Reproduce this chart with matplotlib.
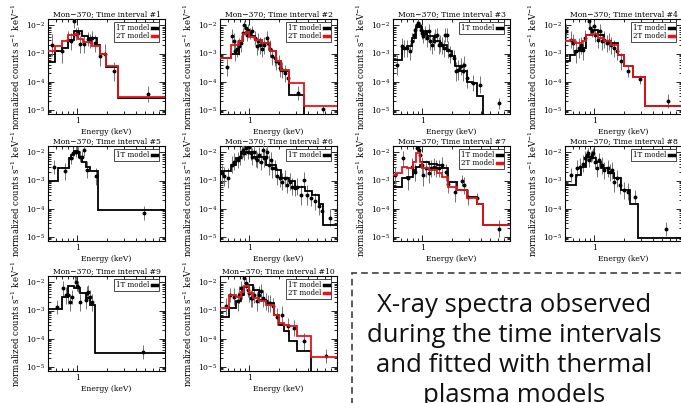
import numpy as np
import matplotlib
matplotlib.use('Agg')
import matplotlib.pyplot as plt
from matplotlib.lines import Line2D
from matplotlib.patches import Rectangle
from matplotlib.ticker import FixedLocator, FixedFormatter, NullFormatter, LogLocator

# ---- spectra (energy in keV, flux in counts/s/keV, error in dex) ----
P1_E = [0.55, 0.69, 0.81, 0.87, 0.93, 0.97, 1.02, 1.08, 1.18, 1.28, 1.35, 1.41, 1.53, 1.71, 1.92, 2.39, 5.4]
P1_F = [2.0e-3, 1.2e-3, 3.1e-3, 2.7e-3, 1.5e-2, 5.0e-3, 5.6e-3, 2.1e-3, 2.1e-3, 3.3e-3, 2.9e-3, 3.5e-3,
        2.3e-3, 8.3e-4, 9.8e-4, 2.3e-4, 3.6e-5]
P1_ERR = [0.4, 0.4, 0.3, 0.3, 0.25, 0.2, 0.2, 0.3, 0.3, 0.25, 0.25, 0.25, 0.3, 0.35, 0.35, 0.35, 0.3]
P1_EDGES_1T = [0.5, 0.59, 0.69, 0.8, 0.93, 1.11, 1.30, 1.58, 1.71, 1.97, 2.63, 8.0]
P1_MOD_1T = [4.8e-4, 1.2e-3, 1.6e-3, 3.1e-3, 6.1e-3, 4.1e-3, 3.7e-3, 2.0e-3, 1.0e-3, 3.2e-4, 2.7e-5]
P1_EDGES_2T = [0.5, 0.59, 0.69, 0.81, 0.95, 1.02, 1.15, 1.41, 1.71, 1.97, 2.63, 8.0]
P1_MOD_2T = [1.25e-3, 1.9e-3, 2.7e-3, 4.7e-3, 4.9e-3, 3.3e-3, 2.5e-3, 1.8e-3, 1.0e-3, 3.7e-4, 2.8e-5]

P2_E = [0.59, 0.67, 0.69, 0.72, 0.75, 0.79, 0.82, 0.86, 0.89, 0.92, 0.94, 0.97, 1.02, 1.06, 1.15, 1.19,
        1.24, 1.29, 1.34, 1.43, 1.51, 1.56, 1.63, 1.72, 1.83, 1.90, 2.02, 2.09, 2.18, 2.36, 2.49, 3.15, 5.8]
P2_F = [3.2e-4, 4.1e-3, 2.7e-3, 1.2e-3, 1.5e-3, 1.8e-3, 2.3e-3, 5.3e-3, 1.05e-2, 8.0e-3, 4.6e-3, 7.0e-3,
        5.3e-3, 6.1e-3, 3.5e-3, 1.8e-3, 2.7e-3, 2.0e-3, 1.5e-3, 2.0e-3, 3.5e-3, 2.3e-3, 1.5e-3, 7.9e-4,
        6.9e-4, 5.2e-4, 4.6e-4, 3.0e-4, 2.6e-4, 2.0e-4, 1.3e-4, 3.9e-5, 1.07e-5]
P2_ERR = [0.3, 0.25, 0.3, 0.35, 0.3, 0.3, 0.3, 0.2, 0.15, 0.15, 0.2, 0.2, 0.2, 0.2, 0.25, 0.3, 0.3, 0.3,
          0.3, 0.3, 0.25, 0.25, 0.3, 0.3, 0.3, 0.3, 0.3, 0.3, 0.3, 0.3, 0.3, 0.25, 0.15]
P2_EDGES = [0.5, 0.65, 0.78, 0.86, 0.93, 1.0, 1.15, 1.35, 1.63, 1.90, 2.13, 2.59, 3.67, 8.0]
P2_MOD_1T = [6.8e-4, 1.0e-3, 2.7e-3, 5.3e-3, 5.8e-3, 4.1e-3, 3.1e-3, 2.3e-3, 1.2e-3, 5.5e-4, 2.3e-4, 3.3e-5, 1e-6]
P2_MOD_2T = [6.8e-4, 2.0e-3, 2.7e-3, 5.0e-3, 6.0e-3, 4.0e-3, 3.0e-3, 2.4e-3, 1.2e-3, 5.5e-4, 2.6e-4, 9.0e-5, 1.3e-5]

P3_E = [0.55, 0.62, 0.65, 0.70, 0.74, 0.78, 0.83, 0.85, 0.88, 0.91, 0.94, 0.97, 1.0, 1.03, 1.07, 1.12,
        1.16, 1.21, 1.26, 1.31, 1.36, 1.41, 1.47, 1.53, 1.59, 1.66, 1.72, 1.79, 1.86, 1.94, 2.10, 2.23,
        2.36, 2.49, 2.61, 2.70, 2.87, 3.31, 3.94, 6.2]
P3_F = [4.0e-4, 1.8e-3, 1.55e-3, 1.55e-3, 1.2e-3, 2.7e-3, 4.7e-3, 7.0e-3, 1.05e-2, 1.2e-2, 9.2e-3, 7.0e-3,
        5.3e-3, 4.1e-3, 5.3e-3, 3.5e-3, 6.1e-3, 2.7e-3, 2.0e-3, 2.7e-3, 4.1e-3, 4.7e-3, 2.0e-3, 2.3e-3,
        2.0e-3, 1.55e-3, 4.7e-3, 4.7e-3, 1.35e-3, 9.1e-4, 6.9e-4, 2.3e-4, 2.6e-4, 3.5e-4, 2.3e-4, 4.0e-4,
        1.3e-4, 8.9e-5, 7.8e-5, 1.7e-5]
P3_ERR = [0.35, 0.3, 0.3, 0.3, 0.3, 0.3, 0.25, 0.2, 0.15, 0.15, 0.15, 0.2, 0.2, 0.25, 0.25, 0.3, 0.25,
          0.3, 0.3, 0.3, 0.25, 0.25, 0.3, 0.3, 0.3, 0.3, 0.25, 0.25, 0.3, 0.3, 0.3, 0.35, 0.35, 0.3, 0.35,
          0.3, 0.35, 0.3, 0.3, 0.2]
P3_EDGES = [0.5, 0.62, 0.70, 0.78, 0.87, 0.99, 1.13, 1.31, 1.53, 1.79, 2.01, 2.18, 2.45, 2.87, 3.23, 3.64, 4.26, 8.0]
P3_MOD_1T = [5.9e-4, 1.55e-3, 1.8e-3, 3.5e-3, 8.5e-3, 6.1e-3, 4.1e-3, 2.7e-3, 2.0e-3, 1.2e-3, 7.9e-4,
             3.5e-4, 2.3e-4, 1.0e-4, 8.9e-5, 3.0e-5, 1e-6]

P4_E = [0.51, 0.57, 0.61, 0.65, 0.69, 0.73, 0.77, 0.81, 0.88, 0.91, 0.95, 0.99, 1.03, 1.09, 1.14, 1.21,
        1.26, 1.34, 1.42, 1.48, 1.60, 1.71, 1.88, 2.25, 2.93, 5.8]
P4_F = [6.1e-3, 3.1e-3, 2.3e-3, 1.2e-3, 1.55e-3, 2.0e-3, 1.35e-3, 3.5e-3, 1.4e-2, 8.1e-3, 6.1e-3, 9.2e-3,
        4.7e-3, 3.1e-3, 6.1e-3, 2.7e-3, 3.1e-3, 2.3e-3, 2.7e-3, 2.0e-3, 1.55e-3, 1.2e-3, 5.2e-4, 2.3e-4,
        1.2e-4, 2.0e-5]
P4_ERR = [0.25, 0.3, 0.35, 0.4, 0.35, 0.3, 0.35, 0.3, 0.2, 0.2, 0.2, 0.2, 0.25, 0.3, 0.25, 0.3, 0.3, 0.3,
          0.3, 0.3, 0.3, 0.3, 0.3, 0.2, 0.15, 0.25]
P4_EDGES = [0.5, 0.56, 0.64, 0.75, 0.83, 0.95, 1.09, 1.26, 1.48, 1.76, 2.04, 2.49, 3.30, 8.0]
P4_MOD_1T = [5.2e-4, 9.1e-4, 1.2e-3, 1.55e-3, 4.7e-3, 7.0e-3, 4.7e-3, 2.8e-3, 2.3e-3, 9.1e-4, 3.5e-4, 1.5e-4, 1.3e-5]
P4_MOD_2T = [2.7e-3, 3.1e-3, 2.3e-3, 2.7e-3, 4.7e-3, 4.9e-3, 3.5e-3, 2.7e-3, 2.0e-3, 9.1e-4, 3.5e-4, 1.5e-4, 1.4e-5]

P5_E = [0.57, 0.74, 0.87, 0.90, 0.96, 1.0, 1.02, 1.08, 1.12, 1.17, 1.27, 1.55, 4.9]
P5_F = [3.1e-3, 2.1e-3, 6.1e-3, 9.2e-3, 1.05e-2, 1.9e-2, 1.0e-2, 7.0e-3, 7.0e-3, 1.2e-2, 2.4e-3, 1.4e-3, 7.1e-5]
P5_ERR = [0.25, 0.3, 0.2, 0.2, 0.2, 0.15, 0.2, 0.2, 0.2, 0.2, 0.3, 0.3, 0.25]
P5_EDGES = [0.5, 0.64, 0.82, 0.87, 0.92, 1.0, 1.04, 1.12, 1.24, 1.34, 1.65, 8.0]
P5_MOD_1T = [9.7e-4, 2.9e-3, 6.5e-3, 8.1e-3, 1.1e-2, 9.2e-3, 7.0e-3, 4.7e-3, 3.1e-3, 2.1e-3, 9.1e-5]

P6_E = [0.52, 0.55, 0.61, 0.66, 0.70, 0.76, 0.80, 0.84, 0.87, 0.89, 0.92, 0.96, 1.0, 1.04, 1.08, 1.12,
        1.17, 1.21, 1.26, 1.31, 1.37, 1.42, 1.48, 1.54, 1.60, 1.66, 1.73, 1.84, 1.95, 2.05, 2.19, 2.33,
        2.46, 2.60, 2.77, 2.95, 3.12, 3.37, 3.65, 3.94, 4.27, 4.80, 5.19, 5.6, 6.8]
P6_F = [1.8e-3, 1.4e-3, 1.2e-3, 3.6e-3, 4.7e-3, 5.4e-3, 7.0e-3, 1.05e-2, 1.2e-2, 9.2e-3, 1.4e-2, 1.05e-2,
        1.6e-2, 9.2e-3, 7.0e-3, 1.05e-2, 6.1e-3, 5.4e-3, 8.1e-3, 4.7e-3, 1.2e-2, 6.1e-3, 7.0e-3, 1.05e-2,
        3.6e-3, 5.4e-3, 2.7e-3, 2.7e-3, 1.4e-3, 1.2e-3, 9.2e-4, 1.2e-3, 7.0e-4, 9.2e-4, 6.1e-4, 5.4e-4,
        6.1e-4, 3.1e-4, 1.05e-3, 3.1e-4, 2.4e-4, 1.8e-4, 1.2e-4, 8.1e-5, 4.7e-5]
P6_ERR = [0.3, 0.35, 0.35, 0.3, 0.3, 0.3, 0.3, 0.25, 0.25, 0.25, 0.25, 0.25, 0.25, 0.25, 0.3, 0.25, 0.3,
          0.3, 0.3, 0.3, 0.25, 0.3, 0.3, 0.25, 0.35, 0.3, 0.35, 0.3, 0.3, 0.3, 0.3, 0.3, 0.3, 0.3, 0.3,
          0.3, 0.3, 0.35, 0.3, 0.35, 0.3, 0.3, 0.3, 0.3, 0.3]
P6_EDGES = [0.5, 0.65, 0.73, 0.82, 1.08, 1.48, 1.87, 2.10, 2.56, 2.99, 3.79, 4.43, 5.19, 5.8, 8.0]
P6_MOD_1T = [2.1e-3, 3.6e-3, 6.1e-3, 1.0e-2, 7.0e-3, 3.6e-3, 2.4e-3, 1.2e-3, 1.0e-3, 6.1e-4, 4.1e-4,
             3.1e-4, 1.4e-4, 2.5e-5]

P7_E = [0.53, 0.64, 0.72, 0.78, 0.85, 0.88, 0.90, 0.92, 0.95, 0.99, 1.03, 1.10, 1.16, 1.23, 1.31, 1.39,
        1.47, 1.59, 1.76, 1.86, 2.18, 2.55, 2.70, 2.99, 3.64, 6.1]
P7_F = [1.55e-3, 6.1e-3, 1.2e-3, 3.1e-3, 2.0e-3, 1.4e-2, 1.6e-2, 1.2e-2, 8.0e-3, 3.5e-3, 1.55e-3, 2.7e-3,
        1.8e-3, 2.7e-3, 3.1e-3, 2.7e-3, 2.7e-3, 3.5e-3, 2.0e-3, 7.8e-4, 4.0e-4, 1.0e-3, 6.8e-4, 2.6e-4,
        2.3e-4, 1.9e-5]
P7_ERR = [0.3, 0.25, 0.4, 0.3, 0.3, 0.15, 0.15, 0.15, 0.2, 0.3, 0.4, 0.3, 0.35, 0.3, 0.3, 0.3, 0.3, 0.3,
          0.3, 0.35, 0.35, 0.2, 0.3, 0.3, 0.2, 0.3]
P7_EDGES = [0.5, 0.55, 0.62, 0.70, 0.80, 0.87, 0.94, 0.99, 1.16, 1.41, 1.59, 1.86, 2.27, 2.87, 3.64, 4.19, 8.0]
P7_MOD_1T = [5.9e-4, 5.9e-4, 1.2e-3, 1.35e-3, 2.3e-3, 3.1e-3, 3.5e-3, 4.6e-3, 4.0e-3, 3.5e-3, 2.7e-3,
             9.0e-4, 4.5e-4, 2.6e-4, 1.5e-4, 2.7e-5]
P7_MOD_2T = [1.55e-3, 1.9e-3, 3.1e-3, 2.7e-3, 4.6e-3, 9.2e-3, 4.6e-3, 2.7e-3, 2.3e-3, 1.8e-3, 1.35e-3,
             5.9e-4, 4.5e-4, 2.3e-4, 1.5e-4, 2.7e-5]

P8_E = [0.57, 0.67, 0.72, 0.76, 0.80, 0.84, 0.87, 0.89, 0.92, 0.95, 0.98, 1.02, 1.07, 1.13, 1.19, 1.27,
        1.37, 1.44, 1.51, 1.61, 1.72, 1.86, 2.02, 2.22, 2.64, 5.5]
P8_F = [1.55e-3, 2.7e-3, 3.1e-3, 4.0e-3, 6.1e-3, 8.0e-3, 9.2e-3, 5.3e-3, 7.0e-3, 8.0e-3, 9.2e-3, 4.6e-3,
        2.7e-3, 5.3e-3, 3.5e-3, 2.3e-3, 2.7e-3, 2.0e-3, 2.3e-3, 9.0e-4, 1.2e-3, 6.8e-4, 4.5e-4, 4.0e-4,
        2.6e-4, 1.9e-5]
P8_ERR = [0.25, 0.3, 0.3, 0.3, 0.25, 0.2, 0.2, 0.25, 0.2, 0.2, 0.2, 0.25, 0.3, 0.25, 0.3, 0.3, 0.3, 0.3,
          0.3, 0.35, 0.3, 0.3, 0.3, 0.3, 0.25, 0.25]
P8_EDGES = [0.5, 0.65, 0.73, 0.82, 0.92, 1.04, 1.17, 1.37, 1.61, 1.89, 2.31, 2.82, 8.0]
P8_MOD_1T = [7.2e-4, 1.55e-3, 3.1e-3, 7.0e-3, 6.1e-3, 4.6e-3, 2.8e-3, 1.8e-3, 1.2e-3, 4.5e-4, 1.4e-4, 8.9e-6]

P9_E = [0.62, 0.72, 0.76, 0.80, 0.85, 0.89, 0.94, 0.96, 0.99, 1.02, 1.06, 1.22, 1.26, 1.29, 1.34, 1.43, 4.8]
P9_F = [1.35e-3, 6.1e-3, 3.5e-3, 3.5e-3, 2.0e-3, 3.1e-3, 1.8e-2, 1.05e-2, 7.6e-3, 7.0e-3, 2.0e-3, 2.3e-3,
        4.1e-3, 4.7e-3, 3.1e-3, 2.0e-3, 3.4e-5]
P9_ERR = [0.25, 0.25, 0.3, 0.3, 0.3, 0.25, 0.2, 0.2, 0.2, 0.2, 0.3, 0.3, 0.25, 0.25, 0.25, 0.3, 0.25]
P9_EDGES = [0.5, 0.70, 0.80, 0.92, 1.06, 1.22, 1.36, 1.51, 8.0]
P9_MOD_1T = [1.1e-3, 3.1e-3, 7.6e-3, 6.1e-3, 4.1e-3, 2.7e-3, 1.55e-3, 3.0e-5]

P10_E = [0.57, 0.63, 0.70, 0.76, 0.79, 0.82, 0.85, 0.89, 0.92, 0.96, 1.0, 1.04, 1.08, 1.12, 1.19, 1.26,
         1.31, 1.39, 1.48, 1.56, 1.64, 1.76, 1.95, 2.15, 2.52, 2.88, 3.65, 6.1]
P10_F = [1.4e-3, 3.6e-3, 3.1e-3, 2.1e-3, 3.6e-3, 6.1e-3, 4.7e-3, 1.4e-2, 9.2e-3, 5.4e-3, 4.1e-3, 2.7e-3,
         2.7e-3, 3.6e-3, 2.1e-3, 3.6e-3, 4.9e-3, 2.7e-3, 2.1e-3, 1.8e-3, 1.8e-3, 1.4e-3, 6.1e-4, 7.0e-4,
         2.7e-4, 2.4e-4, 8.1e-5, 2.4e-5]
P10_ERR = [0.3, 0.25, 0.3, 0.35, 0.3, 0.25, 0.25, 0.2, 0.2, 0.25, 0.3, 0.3, 0.3, 0.3, 0.35, 0.3, 0.25,
           0.3, 0.3, 0.3, 0.3, 0.3, 0.3, 0.3, 0.3, 0.3, 0.3, 0.25]
P10_EDGES = [0.5, 0.62, 0.73, 0.82, 0.89, 1.0, 1.10, 1.26, 1.48, 1.80, 2.02, 2.28, 2.56, 3.12, 4.27, 8.0]
P10_MOD_1T = [6.1e-4, 1.2e-3, 2.1e-3, 3.6e-3, 7.0e-3, 8.1e-3, 5.4e-3, 2.4e-3, 1.8e-3, 7.0e-4, 3.1e-4,
              1.8e-4, 8.1e-5, 3.6e-5, 1e-6]
P10_MOD_2T = [1.2e-3, 3.6e-3, 3.1e-3, 4.7e-3, 7.6e-3, 4.1e-3, 2.7e-3, 2.1e-3, 1.6e-3, 7.0e-4, 3.6e-4,
              3.1e-4, 2.7e-4, 1.2e-4, 2.2e-5]

TEXT_LINES = ["X-ray spectra observed", "during the time intervals",
              "and fitted with thermal", "plasma models"]

plt.rcParams['font.family'] = ['DejaVu Serif']
plt.rcParams['mathtext.fontset'] = 'dejavuserif'

W, H = 681, 403
COL_X = [48, 220, 393, 565]   # axes left edge, px
ROW_Y = [19, 146, 276]        # axes top edge, px
AX_W, AX_H = 117, 95

fig = plt.figure(figsize=(W / 100, H / 100), dpi=100)


def draw_panel(num, col, row, e, f, err, edges_1t, mod_1t, edges_2t=None, mod_2t=None):
    ax = fig.add_axes([COL_X[col] / W, 1 - (ROW_Y[row] + AX_H) / H, AX_W / W, AX_H / H])
    ax.set_xscale('log')
    ax.set_yscale('log')

    f = np.array(f)
    d = 10 ** np.array(err)
    ax.errorbar(e, f, yerr=[f - f / d, f * d - f], fmt='o', ms=1.8, color='k',
                ecolor='0.45', elinewidth=0.7, capsize=0, zorder=3)

    ax.stairs(mod_1t, edges_1t, baseline=None, color='k', lw=1.3, zorder=4)
    handles = [Line2D([], [], color='k', lw=2.5)]
    labels = ['1T model']
    if mod_2t is not None:
        ax.stairs(mod_2t, edges_2t, baseline=None, color='#e8141a', lw=1.3, zorder=5)
        handles.append(Line2D([], [], color='#e8141a', lw=2.5))
        labels.append('2T model')

    ax.set_xlim(0.5, 8.0)
    ax.set_ylim(7e-6, 1.7e-2)
    ax.xaxis.set_major_locator(FixedLocator([1.0]))
    ax.xaxis.set_major_formatter(FixedFormatter(['1']))
    ax.xaxis.set_minor_locator(LogLocator(subs=np.arange(2, 10)))
    ax.xaxis.set_minor_formatter(NullFormatter())
    ax.yaxis.set_minor_locator(LogLocator(subs=np.arange(2, 10), numticks=20))
    ax.yaxis.set_minor_formatter(NullFormatter())
    ax.tick_params(which='both', direction='in', top=True, right=True, width=0.6, labelsize=5.5, pad=2)
    ax.tick_params(which='major', length=4)
    ax.tick_params(which='minor', length=2)
    for s in ax.spines.values():
        s.set_linewidth(0.8)

    ax.set_title('Mon\u2212370; Time interval #%d' % num, fontsize=5.5, pad=2)
    ax.set_xlabel('Energy (keV)', fontsize=5.5, labelpad=2)
    ax.set_ylabel(r'normalized counts s$^{-1}$ keV$^{-1}$', fontsize=6.2, labelpad=3)

    leg = ax.legend(handles, labels, loc='upper right', bbox_to_anchor=(0.95, 0.965), borderaxespad=0,
                    fontsize=5, frameon=True, fancybox=False, edgecolor='k', framealpha=1,
                    markerfirst=False, handlelength=0.8, handletextpad=0.4, borderpad=0.25,
                    labelspacing=0.05)
    leg.get_frame().set_linewidth(0.5)
    return ax


draw_panel(1, 0, 0, P1_E, P1_F, P1_ERR, P1_EDGES_1T, P1_MOD_1T, P1_EDGES_2T, P1_MOD_2T)
draw_panel(2, 1, 0, P2_E, P2_F, P2_ERR, P2_EDGES, P2_MOD_1T, P2_EDGES, P2_MOD_2T)
draw_panel(3, 2, 0, P3_E, P3_F, P3_ERR, P3_EDGES, P3_MOD_1T)
draw_panel(4, 3, 0, P4_E, P4_F, P4_ERR, P4_EDGES, P4_MOD_1T, P4_EDGES, P4_MOD_2T)
draw_panel(5, 0, 1, P5_E, P5_F, P5_ERR, P5_EDGES, P5_MOD_1T)
draw_panel(6, 1, 1, P6_E, P6_F, P6_ERR, P6_EDGES, P6_MOD_1T)
draw_panel(7, 2, 1, P7_E, P7_F, P7_ERR, P7_EDGES, P7_MOD_1T, P7_EDGES, P7_MOD_2T)
draw_panel(8, 3, 1, P8_E, P8_F, P8_ERR, P8_EDGES, P8_MOD_1T)
draw_panel(9, 0, 2, P9_E, P9_F, P9_ERR, P9_EDGES, P9_MOD_1T)
draw_panel(10, 1, 2, P10_E, P10_F, P10_ERR, P10_EDGES, P10_MOD_1T, P10_EDGES, P10_MOD_2T)

# dashed caption box, running off the right and bottom edges
box = Rectangle((352 / W, -0.2), 0.6, 1.2 - 273 / H, transform=fig.transFigure, fill=False,
                edgecolor='#404040', lw=1.2, linestyle=(0, (4, 2.5)))
fig.patches.append(box)

for i, line in enumerate(TEXT_LINES):
    fig.text(514 / W, 1 - (312 + 30 * i) / H, line, ha='center', va='baseline',
             fontsize=18.5, family='Open Sans', color='#111111')

fig.savefig('out.png', dpi=100)
